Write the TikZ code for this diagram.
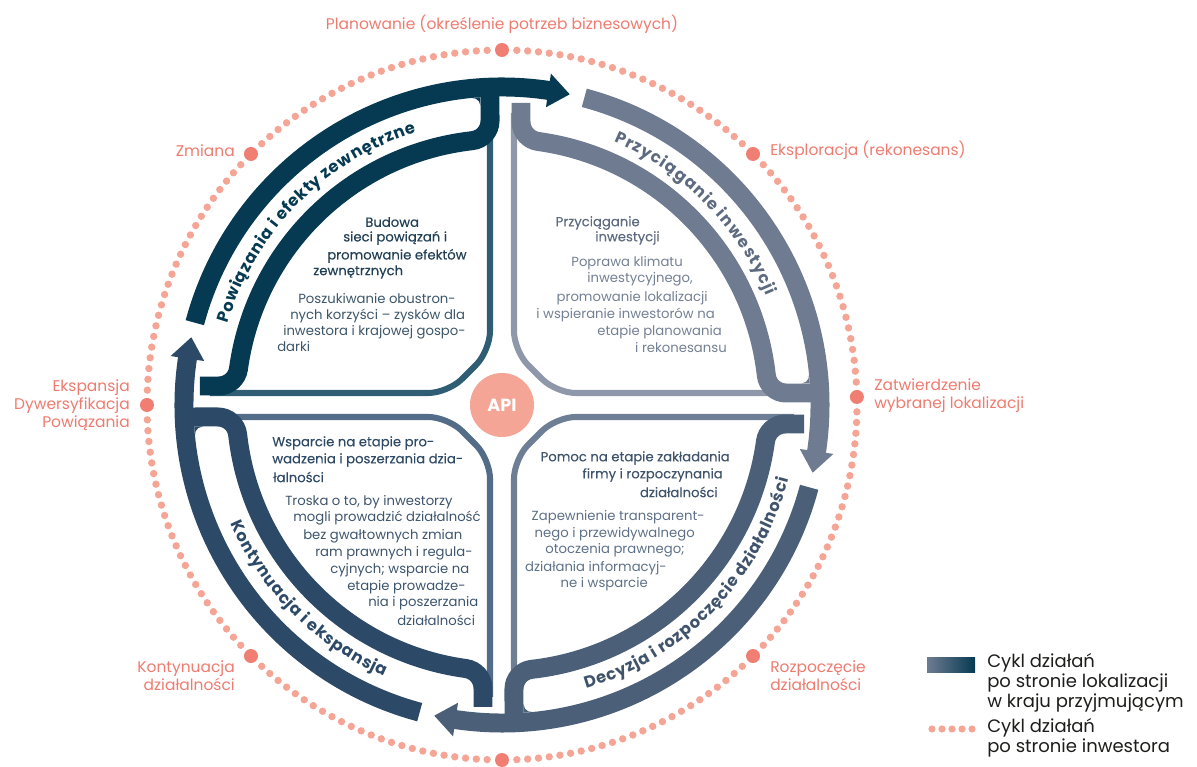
\documentclass[tikz,border=0pt]{standalone}
\usepackage{fontspec}
\setmainfont{Poppins}
\usetikzlibrary{decorations.text}

\definecolor{tlc}{HTML}{063A52}
\definecolor{tll}{HTML}{2F5E74}
\definecolor{trc}{HTML}{6F7B91}
\definecolor{trl}{HTML}{8F98AA}
\definecolor{brc}{HTML}{4B5F79}
\definecolor{brl}{HTML}{6E7F95}
\definecolor{blc}{HTML}{2C4A67}
\definecolor{bll}{HTML}{536C87}
\definecolor{tlt}{HTML}{213F55}
\definecolor{tld}{HTML}{3B5568}
\definecolor{trt}{HTML}{5D6A7F}
\definecolor{trd}{HTML}{737F93}
\definecolor{brt}{HTML}{3F536B}
\definecolor{brd}{HTML}{5E7087}
\definecolor{blt}{HTML}{2E4A66}
\definecolor{bld}{HTML}{3D546D}
\definecolor{dotc}{HTML}{F4A596}
\definecolor{bigdotc}{HTML}{F07E72}
\definecolor{labc}{HTML}{EE7B6F}
\definecolor{legc}{HTML}{1D1D1B}

% one quarter of the cycle: rotation, thick colour, thin colour
\def\sector#1#2#3{%
\begin{scope}[rotate=#1]
  \draw[line width=4.3pt, color=#3, rounded corners=14pt] (12,292) -- (12,54) -- (54,12) -- (292,12);
  \draw[line width=13.5pt, color=#2] (19,302) -- (19,283.33) arc[start angle=180,end angle=262.16,radius=20]
    arc[start angle=82.16,end angle=6.42,radius=266] arc[start angle=186.42,end angle=270,radius=20] -- (318,12);
  \fill[color=#2] (299.05,21.5) -- (307.75,21.5) -- (307.01,30.29) arc[start angle=5.67,end angle=-90,radius=8] -- cycle;
  \draw[line width=13.5pt, color=#2] (75:318) arc[start angle=75,end angle=-8.8,radius=318];
  \fill[color=#2] (-8.4:335) -- (-12.3:318) -- (-8.4:301) -- cycle;
\end{scope}}

\def\bandfont{\fontsize{11.6}{12}\selectfont\bfseries}

\tikzset{
  body/.style={inner sep=0pt, font=\fontsize{9.4}{11}\selectfont},
  ttl/.style={inner sep=0pt, font=\fontsize{9.4}{11}\selectfont\addfontfeature{FakeBold=0.2}},
  lab/.style={inner sep=0pt, text=labc, font=\fontsize{11}{12.8}\selectfont},
  leg/.style={inner sep=0pt, anchor=west, align=left, text=legc, font=\fontsize{12.8}{12.5}\selectfont},
  bandtext/.style={decorate, decoration={text effects along path, text={#1},
    text effects/.cd, text along path, fit text to path}},
}

\begin{document}
\begin{tikzpicture}[x=0.025cm, y=0.025cm]
  \useasboundingbox (-502,-362) rectangle (695,405);

  %%%%% investor cycle %%%%%
  \foreach \a/\b in {1.3/45, 45/90, 90/135, 135/180, 180/225, 225/270, 270/315, 315/361.3} {
    \pgfmathsetmacro\n{int(round((\b-\a-4.8)/1.75))}
    \pgfmathsetmacro\st{(\b-\a-4.8)/\n}
    \foreach \k in {0,...,\n} \fill[dotc] ({\a+2.4+\k*\st}:355) circle (3.7);
  }
  \foreach \a in {1.3,45,90,135,180,225,270,315} \fill[bigdotc] (\a:355) circle (7);

  %%%%% four quarters %%%%%
  \sector{0}{trc}{trl}
  \sector{90}{tlc}{tll}
  \sector{180}{blc}{bll}
  \sector{270}{brc}{brl}

  \path[bandtext={Powiązania i efekty zewnętrzne},
    decoration={text effects/characters={font=\bandfont, text=tlc}}]
    (163.5:286) arc[start angle=163.5,end angle=107.5,radius=286];
  \path[bandtext={Przyciąganie inwestycji},
    decoration={text effects/characters={font=\bandfont, text=trt}}]
    (67:286) arc[start angle=67,end angle=22.5,radius=286];
  \path[bandtext={Decyzja i rozpoczęcie działalności},
    decoration={text effects/characters={font=\bandfont, text=brt}}]
    (-73.5:296) arc[start angle=-73.5,end angle=-14.5,radius=296];
  \path[bandtext={Kontynuacja i ekspansja},
    decoration={text effects/characters={font=\bandfont, text=blc}}]
    (203.5:296) arc[start angle=203.5,end angle=246.5,radius=296];

  \node[circle, fill=dotc, minimum size=1.6cm, inner sep=0pt, text=white,
    font=\fontsize{12.5}{14}\selectfont\bfseries] (api) at (0,0) {API};

  %%%%% top left %%%%%
  \node[ttl, anchor=west, text=tlt] (tl1) at (-137,183) {Budowa};
  \node[ttl, anchor=west, text=tlt] (tl2) at (-159,167) {sieci powiązań i};
  \node[ttl, anchor=west, text=tlt] (tl3) at (-175,149) {promowanie efektów};
  \node[ttl, anchor=west, text=tlt] (tl4) at (-189,133) {zewnętrznych};
  \node[body, anchor=west, text=tld] (tl5) at (-204,106) {Poszukiwanie obustron-};
  \node[body, anchor=west, text=tld] (tl6) at (-212,89) {nych korzyści – zysków dla};
  \node[body, anchor=west, text=tld] (tl7) at (-219,73) {inwestora i krajowej gospo-};
  \node[body, anchor=west, text=tld] (tl8) at (-225,58) {darki};

  %%%%% top right %%%%%
  \node[ttl, anchor=east, text=trt] (tr1) at (138,182) {Przyciąganie};
  \node[ttl, anchor=east, text=trt] (tr2) at (158,167) {inwestycji};
  \node[body, anchor=east, text=trd] (tr3) at (181,142) {Poprawa klimatu};
  \node[body, anchor=east, text=trd] (tr4) at (191,126) {inwestycyjnego,};
  \node[body, anchor=east, text=trd] (tr5) at (206,107) {promowanie lokalizacji};
  \node[body, anchor=east, text=trd] (tr6) at (213,90) {i wspieranie inwestorów na};
  \node[body, anchor=east, text=trd] (tr7) at (220,73) {etapie planowania};
  \node[body, anchor=east, text=trd] (tr8) at (225,57) {i rekonesansu};

  %%%%% bottom right %%%%%
  \node[ttl, anchor=east, text=brt] (br1) at (228,-53) {Pomoc na etapie zakładania};
  \node[ttl, anchor=east, text=brt] (br2) at (221,-70) {firmy i rozpoczynania};
  \node[ttl, anchor=east, text=brt] (br3) at (216,-87) {działalności};
  \node[body, anchor=east, text=brd] (br4) at (203,-112) {Zapewnienie transparent-};
  \node[body, anchor=east, text=brd] (br5) at (193,-129) {nego i przewidywalnego};
  \node[body, anchor=east, text=brd] (br6) at (183,-145) {otoczenia prawnego;};
  \node[body, anchor=east, text=brd] (br7) at (165,-163) {działania informacyj-};
  \node[body, anchor=east, text=brd] (br8) at (146,-179) {ne i wsparcie};

  %%%%% bottom left %%%%%
  \node[ttl, anchor=west, text=blt] (bl1) at (-230,-38) {Wsparcie na etapie pro-};
  \node[ttl, anchor=west, text=blt] (bl2) at (-230,-55) {wadzenia i poszerzania dzia-};
  \node[ttl, anchor=west, text=blt] (bl3) at (-229,-72) {łalności};
  \node[body, anchor=west, text=bld] (bl4) at (-217,-97) {Troska o to, by inwestorzy};
  \node[body, anchor=west, text=bld] (bl5) at (-209,-113) {mogli prowadzić działalność};
  \node[body, anchor=west, text=bld] (bl6) at (-199,-131) {bez gwałtownych zmian};
  \node[body, anchor=west, text=bld] (bl7) at (-187,-148) {ram prawnych i regula-};
  \node[body, anchor=west, text=bld] (bl8) at (-172,-165) {cyjnych; wsparcie na};
  \node[body, anchor=west, text=bld] (bl9) at (-155,-182) {etapie prowadze-};
  \node[body, anchor=west, text=bld] (bl10) at (-134,-198) {nia i poszerzania};
  \node[body, anchor=west, text=bld] (bl11) at (-105,-215) {działalności};

  %%%%% investor stages %%%%%
  \node[lab] (plan) at (0,381) {Planowanie (określenie potrzeb biznesowych)};
  \node[lab, anchor=east] (zmiana) at (-267,254) {Zmiana};
  \node[lab, anchor=west] (eksp) at (268,255) {Eksploracja (rekonesans)};
  \node[lab, anchor=east, align=right] (ekspansja) at (-372,0) {Ekspansja\\Dywersyfikacja\\Powiązania};
  \node[lab, anchor=west, align=left] (zatw) at (372,9) {Zatwierdzenie\\wybranej lokalizacji};
  \node[lab, anchor=east, align=right] (kont) at (-267,-271) {Kontynuacja\\działalności};
  \node[lab, anchor=west, align=left] (rozp) at (268,-271) {Rozpoczęcie\\działalności};

  %%%%% legend %%%%%
  \shade[left color=trc, right color=tlc] (425,-253) rectangle (473,-268);
  \node[leg] (leg1) at (485,-278) {Cykl działań\\po stronie lokalizacji\\w kraju przyjmującym};
  \foreach \i in {0,...,4} \fill[dotc] (430+10*\i,-324) circle (3.6);
  \node[leg] (leg2) at (485,-333) {Cykl działań\\po stronie inwestora};
\end{tikzpicture}
\end{document}
